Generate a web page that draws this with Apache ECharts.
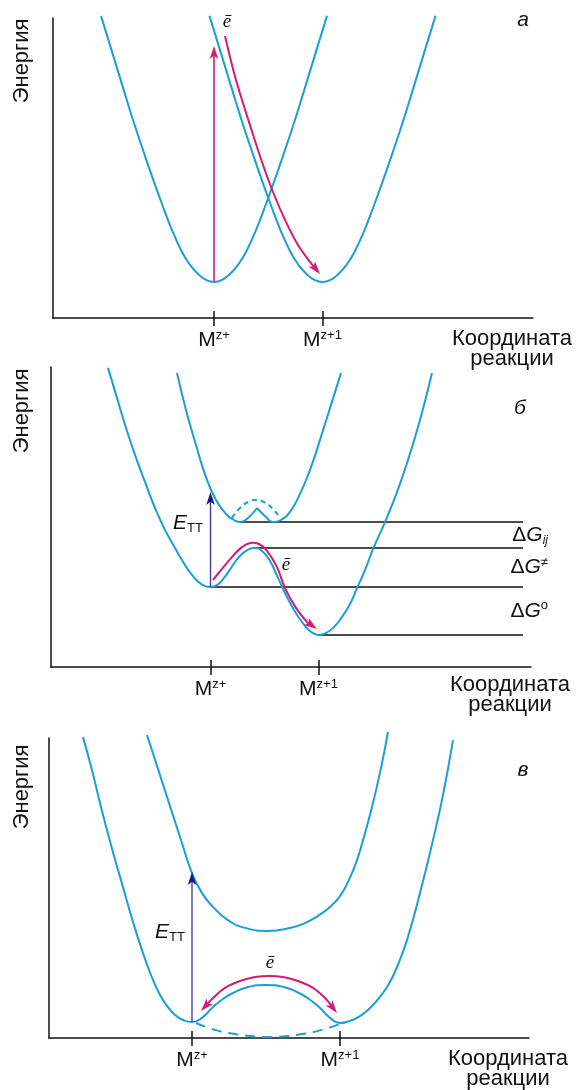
<!DOCTYPE html>
<html><head><meta charset="utf-8">
<script src="https://cdn.jsdelivr.net/npm/echarts@6/dist/echarts.min.js"></script>
<style>html,body{margin:0;padding:0;background:#fff}#c{width:576px;height:1090px}</style>
</head><body><div id="c"></div>
<script>
// ---------------- DATA (arbitrary units: reaction coordinate 0..96, energy 0..100) ----------------
const tickBase = 'M';
const tickSup = ['z+', 'z+1'];
const xTicksA = [32.2, 53.9];
const xTicksB = [31.9, 53.5];
const xTicksC = [28.6, 58.2];
const axisTitle = 'Координата\nреакции';
const energyTitle = 'Энергия';
const panelLetters = ['а', 'б', 'в'];

// panel а
const aLeftWell = [[9.6,100.7],[12.0,87.7],[14.2,75.7],[16.2,65],[18.2,55],[20.0,46.3],[21.8,38],[23.8,29.3],[25.8,22],[27.4,17.7],[29.0,14.7],[30.6,12.7],[32.2,12],[33.8,12.7],[35.4,14.7],[37.0,17.7],[38.6,22],[40.6,29.3],[42.6,38],[44.4,46.3],[46.2,55],[48.2,65],[50.2,75.7],[52.4,87.7],[54.8,100.7]];
const aRightWell = [[31.3,100.7],[33.7,87.7],[35.9,75.7],[37.9,65],[39.9,55],[41.7,46.3],[43.5,38],[45.5,29.3],[47.5,22],[49.1,17.7],[50.7,14.7],[52.3,12.7],[53.9,12],[55.5,12.7],[57.1,14.7],[58.7,17.7],[60.3,22],[62.3,29.3],[64.3,38],[66.1,46.3],[67.9,55],[69.9,65],[71.9,75.7],[74.1,87.7],[76.5,100.7]];
const aExcite = [[32.2,12],[32.2,90.7]];
const aTransfer = [[34.4,94.0],[36.6,79.3],[39.4,64.3],[41.8,52.0],[44.0,42.0],[46.4,32.7],[49.0,24.3],[51.4,18.7],[53.4,14.7]];
const aElectronAt = [[34.8,98.7]];

// panel б
const bLower = [[11.4,99.7],[13.2,89.7],[15.0,79.7],[16.8,70.7],[18.8,61.7],[20.8,53.0],[22.8,45.7],[24.8,39.7],[26.8,34.0],[28.4,30.3],[30.0,27.7],[31.9,26.7],[33.2,27.3],[34.6,29.7],[36.0,33.0],[37.4,36.3],[39.0,38.7],[40.6,39.7],[42.2,38.7],[43.8,35.3],[45.4,29.7],[47.0,24.0],[48.6,19.0],[50.2,15.0],[51.8,12.0],[53.5,10.7],[55.0,11.3],[56.6,13.3],[58.2,16.7],[59.8,21.0],[61.2,26.3],[62.8,32.3],[64.4,39.3],[66.8,48.3],[69.2,58.3],[71.4,69.0],[73.8,82.3],[76.2,98.0]];
const bUpperLeft = [[25.2,98.0],[27.0,85.7],[29.0,74.0],[31.0,63.3],[33.0,55.7],[35.0,51.0],[36.6,49.0],[37.8,48.3],[39.4,49.7],[41.2,53.0]];
const bUpperRight = [[41.2,53.0],[43.0,50.0],[44.4,48.3],[46.0,49.0],[47.8,51.7],[49.8,57.7],[51.8,65.7],[53.8,75.7],[55.8,86.3],[58.0,98.0]];
const bUpperDashed = [[36.2,49.7],[37.8,53.0],[39.4,55.0],[41.0,55.7],[42.6,55.0],[44.2,53.0],[45.8,49.7]];
const bLevels = [48.3, 39.7, 26.7, 10.7];
const bLevelStarts = [37.8, 40.6, 31.9, 53.5];
const bLevelEnd = 94.4;
const bExcite = [[31.9,26.7],[31.9,58.3]];
const bTransfer = [[32.4,29.0],[34.2,32.7],[36.0,36.3],[38.0,39.7],[39.8,41.3],[41.6,41.0],[43.2,38.7],[45.2,33.3],[46.8,26.3],[49.0,19.7],[51.2,15.0],[53.2,12.7]];
const bElectronAt = [[47.0,34.0]];
const bEttAt = [[30.4,48.0]];
const bDeltaNames = ['ij', '≠', 'o'];
const bDeltaX = 99.4;

// panel в
const cLower = [[6.8,100.3],[8.6,89.3],[10.2,78.3],[12.4,64.3],[14.8,50.3],[16.8,38.7],[18.8,28.3],[20.4,21.0],[22.0,15.0],[23.6,10.7],[25.2,7.7],[26.8,6.0],[28.6,5.3],[30.6,6.7],[32.8,10.3],[34.8,13.0],[36.8,15.0],[39.8,17.0],[43.4,17.7],[47.0,17.0],[50.0,15.0],[52.0,13.0],[54.0,10.3],[56.2,6.7],[58.2,5.0],[60.2,5.7],[62.2,7.3],[64.2,10.0],[66.2,13.7],[68.2,18.7],[70.0,25.3],[71.8,33.7],[74.2,48.3],[76.8,66.0],[78.8,81.0],[80.8,99.3]];
const cUpper = [[19.6,101.0],[21.8,89.7],[24.2,77.3],[26.4,66.0],[28.6,55.0],[30.6,48.3],[32.8,43.7],[35.8,39.3],[39.2,36.7],[43.8,35.7],[48.2,36.7],[51.2,38.3],[53.8,40.7],[56.2,43.7],[58.2,47.3],[60.0,52.7],[61.6,59.3],[63.2,68.3],[64.8,78.3],[66.4,90.0],[67.8,102.0]];
const cDashed = [[29.4,5.0],[33.2,2.7],[37.2,1.3],[41.2,0.5],[43.8,0.3],[46.6,0.5],[50.6,1.3],[54.6,2.7],[58.2,4.7]];
const cExcite = [[28.6,5.3],[28.6,55.3]];
const cTransfer = [[30.4,9.0],[32.6,13.0],[35.2,16.7],[38.2,19.0],[41.2,20.3],[44.0,20.7],[46.8,20.3],[49.8,19.0],[52.8,16.7],[55.4,13.0],[57.6,8.3]];
const cElectronAt = [[44.2,25.0]];
const cEttAt = [[27.2,35.3]];

// ---------------- STYLE ----------------
const INK = '#111111', BLUE = '#1a9ed9', PINK = '#d61c70', PINK_LIGHT = '#e0468c', NAVY = '#1c1c88', NAVY_LIGHT = '#3636a4';
const FONT = "'Liberation Sans', Arial, sans-serif";
const SERIF = "'Liberation Serif', 'DejaVu Serif', serif";
const FS = 21;
const FS_TITLE = 22;

const grids = [
  {left: 53, top: 18, width: 480, height: 300},
  {left: 51, top: 367, width: 480, height: 300},
  {left: 49, top: 738, width: 480, height: 300}
];
const namePad = [11, 8, 11];
const tickSets = [xTicksA, xTicksB, xTicksC];

const xAxes = [], yAxes = [];
tickSets.forEach((ticks, i) => {
  xAxes.push({
    type: 'value', gridIndex: i, min: 0, max: 96, position: 'bottom',
    axisLine: {show: true, onZero: false, lineStyle: {color: INK, width: 1.5}},
    axisTick: {show: true, customValues: ticks, length: 8, lineStyle: {color: INK, width: 1.5}},
    axisLabel: {
      show: true, customValues: ticks, margin: 11,
      formatter: function (v) {
        let k = 0, best = 1e9;
        ticks.forEach((t, j) => { if (Math.abs(t - v) < best) { best = Math.abs(t - v); k = j; } });
        return '{m|' + tickBase + '}{s|' + tickSup[k] + '}';
      },
      rich: {
        m: {fontSize: FS, lineHeight: 23, fontFamily: FONT, color: INK},
        s: {fontSize: 13, lineHeight: 13, verticalAlign: 'top', fontFamily: FONT, color: INK}
      }
    },
    splitLine: {show: false},
    name: axisTitle, nameLocation: 'end', nameGap: -21,
    nameTextStyle: {fontSize: FS_TITLE, fontFamily: FONT, color: INK, align: 'center', verticalAlign: 'top', lineHeight: 20, padding: [namePad[i], 0, 0, 0]}
  });
  xAxes.push({
    type: 'value', gridIndex: i, min: 0, max: 96, position: 'bottom',
    axisLine: {show: false},
    axisTick: {show: true, inside: true, customValues: ticks, length: 7, lineStyle: {color: INK, width: 1.5}},
    axisLabel: {show: false}, splitLine: {show: false}
  });
  yAxes.push({
    type: 'value', gridIndex: i, min: 0, max: 100,
    axisLine: {show: true, onZero: false, lineStyle: {color: INK, width: 1.5}},
    axisTick: {show: false}, axisLabel: {show: false}, splitLine: {show: false}
  });
});

function curve(data, i, opts) {
  opts = opts || {};
  return {
    type: 'line', xAxisIndex: 2 * i, yAxisIndex: i, data: data, smooth: opts.smooth == null ? 0.5 : opts.smooth,
    symbol: 'none', clip: false, silent: true, z: opts.z || 3, animation: false,
    lineStyle: {color: opts.color || BLUE, width: opts.width || 2, type: opts.type || 'solid', cap: 'butt'}
  };
}

function arrowSeries(pts, i, color, width, heads, headColor) {
  return {
    type: 'custom', xAxisIndex: 2 * i, yAxisIndex: i, z: 5, silent: true, animation: false,
    data: pts, encode: {x: 0, y: 1},
    renderItem: function (params, api) {
      if (params.dataIndex !== 0) return null;
      const c = pts.map(p => api.coord(p));
      const L = 13, W = 4.3;
      const kids = [];
      const makeHead = (tip, from) => {
        const dx = tip[0] - from[0], dy = tip[1] - from[1];
        const len = Math.hypot(dx, dy) || 1;
        const ux = dx / len, uy = dy / len, nx = -uy, ny = ux;
        const bx = tip[0] - ux * L, by = tip[1] - uy * L;
        kids.push({type: 'polygon', shape: {points: [[tip[0], tip[1]], [bx + nx * W, by + ny * W], [tip[0] - ux * L * 0.75, tip[1] - uy * L * 0.75], [bx - nx * W, by - ny * W]]}, style: {fill: headColor || color}});
        return [tip[0] - ux * L * 0.65, tip[1] - uy * L * 0.65];
      };
      const shaft = c.slice();
      if (heads === 'end' || heads === 'both') shaft[shaft.length - 1] = makeHead(c[c.length - 1], c[c.length - 2]);
      if (heads === 'start' || heads === 'both') shaft[0] = makeHead(c[0], c[1]);
      kids.unshift({type: 'polyline', shape: {points: shaft, smooth: shaft.length > 2 ? 0.35 : 0}, style: {stroke: color, lineWidth: width, fill: 'none'}});
      return {type: 'group', children: kids};
    }
  };
}

const labelRich = {
  e: {fontSize: FS, fontStyle: 'italic', fontFamily: FONT, color: INK, lineHeight: 24},
  t: {fontSize: 13, fontFamily: FONT, color: INK, verticalAlign: 'bottom', lineHeight: 14},
  el: {fontSize: 19, fontStyle: 'italic', fontFamily: SERIF, color: INK},
  d: {fontSize: FS, fontFamily: FONT, color: INK, lineHeight: 24},
  g: {fontSize: FS, fontStyle: 'italic', fontFamily: FONT, color: INK, lineHeight: 24},
  sub: {fontSize: 12, fontStyle: 'italic', fontFamily: FONT, color: INK, verticalAlign: 'bottom', lineHeight: 12},
  sup: {fontSize: 13, fontStyle: 'italic', fontFamily: FONT, color: INK, verticalAlign: 'top', lineHeight: 13},
  supo: {fontSize: 13, fontFamily: FONT, color: INK, verticalAlign: 'top', lineHeight: 13}
};

function labels(points, texts, i, position) {
  return {
    type: 'scatter', xAxisIndex: 2 * i, yAxisIndex: i, symbolSize: 0, silent: true, clip: false, z: 6, animation: false,
    itemStyle: {opacity: 1, color: INK},
    data: points.map((p, k) => ({value: p, label: {formatter: texts[k]}})),
    label: {show: true, position: position, distance: 0, color: INK, opacity: 1, rich: labelRich}
  };
}

const series = [];
// panel а
series.push(curve(aLeftWell, 0), curve(aRightWell, 0));
series.push(arrowSeries(aExcite, 0, PINK_LIGHT, 2, 'end', PINK));
series.push(arrowSeries(aTransfer, 0, PINK, 2, 'end'));
series.push(labels(aElectronAt, ['{el|ē}'], 0, 'inside'));
// panel б
bLevels.forEach((lv, k) => series.push(curve([[bLevelStarts[k], lv], [bLevelEnd, lv]], 1, {color: INK, width: 1.5, smooth: 0, z: 2})));
series.push(curve(bLower, 1), curve(bUpperLeft, 1), curve(bUpperRight, 1));
series.push(curve(bUpperDashed, 1, {type: [5, 4]}));
series.push(arrowSeries(bExcite, 1, NAVY_LIGHT, 1.3, 'end', NAVY));
series.push(arrowSeries(bTransfer, 1, PINK, 2, 'end'));
series.push(labels(bElectronAt, ['{el|ē}'], 1, 'inside'));
series.push(labels(bEttAt, ['{e|E}{t|ТТ}'], 1, 'left'));
const bDeltaPts = bDeltaNames.map((n, k) => [bDeltaX, (bLevels[k] + bLevels[k + 1]) / 2]);
const bDeltaTexts = bDeltaNames.map((n, k) => '{d|Δ}{g|G}' + (k === 0 ? '{sub|' + n + '}' : (k === 1 ? '{sup|' + n + '}' : '{supo|' + n + '}')));
series.push(labels(bDeltaPts, bDeltaTexts, 1, 'left'));
// panel в
series.push(curve(cLower, 2), curve(cUpper, 2));
series.push(curve(cDashed, 2, {type: [10, 7]}));
series.push(arrowSeries(cExcite, 2, NAVY_LIGHT, 1.3, 'end', NAVY));
series.push(arrowSeries(cTransfer, 2, PINK, 2, 'both'));
series.push(labels(cElectronAt, ['{el|ē}'], 2, 'inside'));
series.push(labels(cEttAt, ['{e|E}{t|ТТ}'], 2, 'left'));

const energyY = [61, 411, 787];
const letterPos = [[523, 20], [520, 408], [523, 770]];
const graphic = [];
energyY.forEach(y => graphic.push({type: 'text', x: 22, y: y, rotation: Math.PI / 2, style: {text: energyTitle, font: FS_TITLE + 'px ' + FONT, fill: INK, textAlign: 'center', textVerticalAlign: 'middle'}}));
letterPos.forEach((p, k) => graphic.push({type: 'text', x: p[0], y: p[1], style: {text: panelLetters[k], font: 'italic ' + FS + 'px ' + FONT, fill: INK, textAlign: 'center', textVerticalAlign: 'middle'}}));

const chart = echarts.init(document.getElementById('c'), null, {renderer: 'canvas'});
chart.setOption({
  animation: false,
  backgroundColor: '#ffffff',
  grid: grids,
  xAxis: xAxes,
  yAxis: yAxes,
  series: series,
  graphic: graphic
});
</script>
</body></html>
